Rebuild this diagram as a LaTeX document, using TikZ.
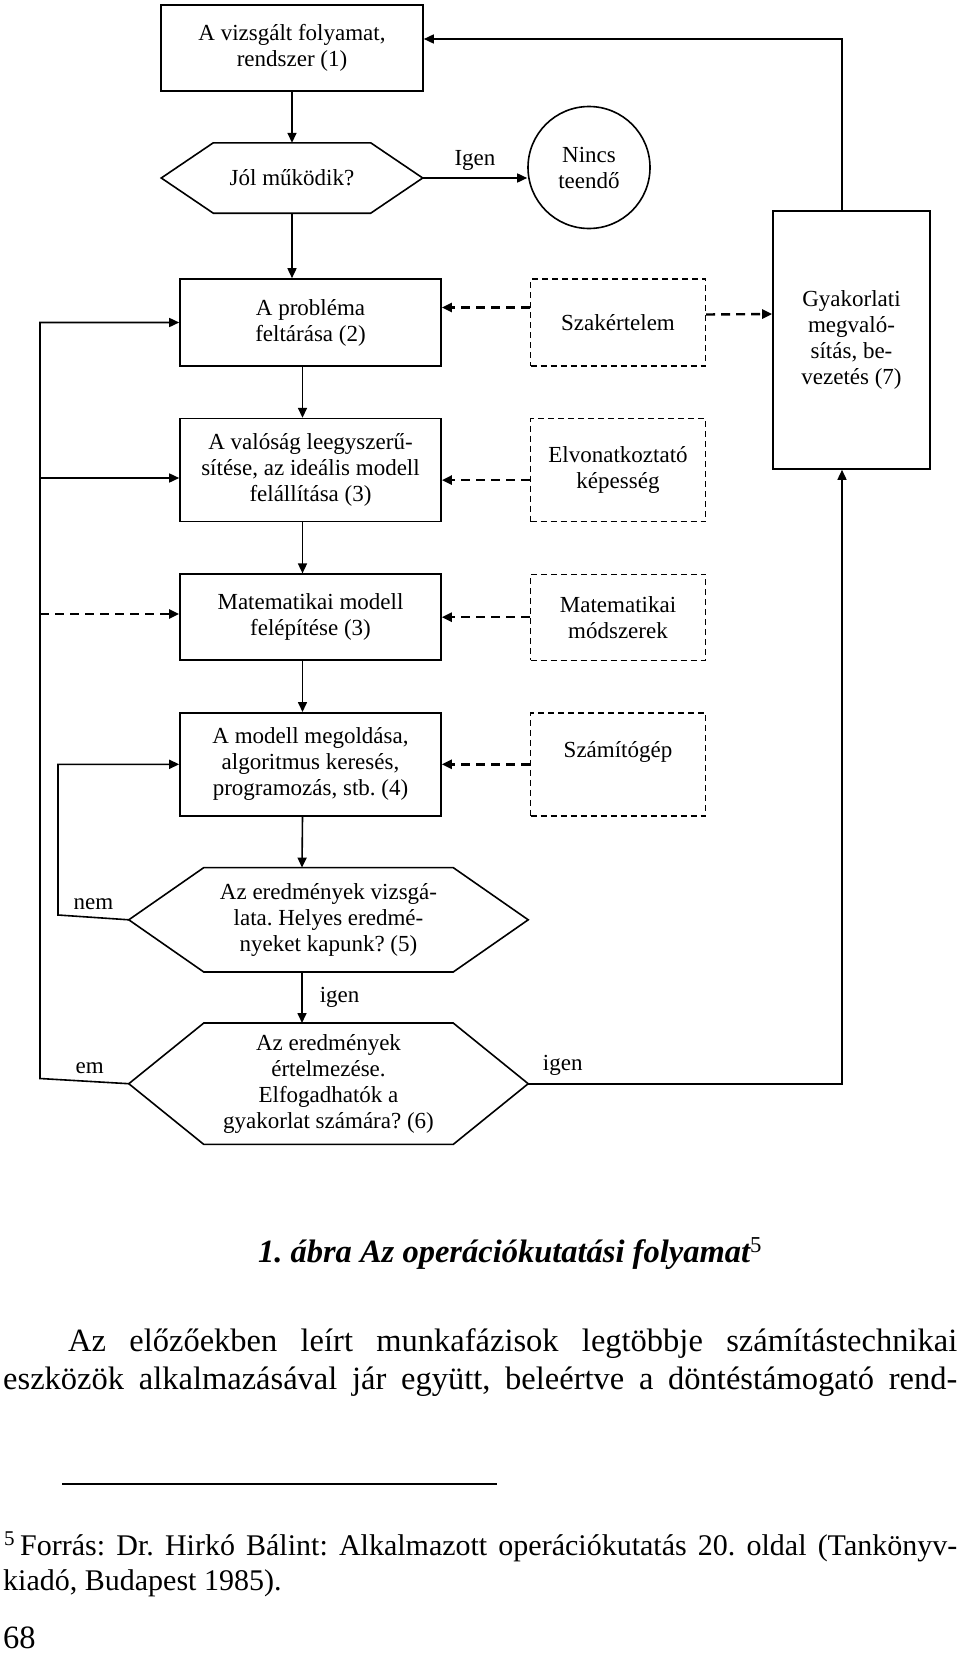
\documentclass[tikz,border=0pt]{standalone}
\usepackage{fontspec}
\setmainfont{Liberation Serif}
\usepackage{tikz}
\usetikzlibrary{shapes,arrows,positioning}
\usetikzlibrary{arrows.meta}
\usetikzlibrary{calc}
\frenchspacing

\begin{document}
\begin{tikzpicture}[
    x=1pt, y=-1pt,
    mybox/.style={
       rectangle,
       draw=black,
       line width=1.6pt,
       align=center,
       inner sep=2pt,
       minimum width=261pt,
       font=\fontsize{23}{26}\selectfont},
    mydash/.style={
       mybox,
       line width=1.4pt,
       dash pattern=on 6pt off 4pt,
       minimum width=175pt},
    myhex/.style={
       rectangle,
       align=center,
       inner sep=2pt,
       minimum width=399pt,
       font=\fontsize{23}{26}\selectfont},
    mylabel/.style={font=\fontsize{23}{26}\selectfont, inner sep=2pt},
    bodytext/.style={font=\fontsize{32.5}{38}\selectfont, inner sep=0pt},
    fntext/.style={font=\fontsize{30}{37}\selectfont, inner sep=0pt},
    myarrow/.style={line width=1.6pt, -{Triangle[length=10pt,width=9pt]}},
    mydasharrow/.style={myarrow, line width=2.4pt, dash pattern=on 9pt off 6pt},
    node distance=51pt and 88pt
    ]
    \useasboundingbox (0,0) rectangle (960,1654);

    \node[mybox, minimum width=262pt, minimum height=86pt] (sys) at (292,48) {A vizsgált folyamat,\\rendszer (1)};
    \node[myhex, minimum width=261pt, minimum height=70pt, below=of sys] (ok) {Jól működik?};
    \node[circle, draw=black, line width=1.6pt, minimum size=122pt, inner sep=0pt,
          align=center, font=\fontsize{23}{26}\selectfont] (nothing) at (589,167.5) {Nincs\\teendő};

    \node[mybox, minimum height=87pt] (feltar) at (310.5,322.5) {A probléma\\feltárása (2)};
    \node[mybox, minimum height=103pt, below=of feltar] (ideal) {A valóság leegyszerű-\\sítése, az ideális modell\\felállítása (3)};
    \node[mybox, minimum height=86pt, below=of ideal] (matmod) {Matematikai modell\\felépítése (3)};
    \node[mybox, minimum height=103pt, below=of matmod] (megold) {A modell megoldása,\\algoritmus keresés,\\programozás, stb. (4)};
    \node[myhex, minimum height=104pt, below=of megold, xshift=18pt] (vizsg) {Az eredmények vizsgá-\\lata. Helyes eredmé-\\nyeket kapunk? (5)};
    \node[myhex, minimum height=121pt, below=of vizsg] (ertelm) {Az eredmények\\értelmezése.\\Elfogadhatók a\\gyakorlat számára? (6)};

    \node[mydash, minimum height=87pt, right=of feltar] (szak) {Szakértelem};
    \node[mydash, minimum height=103pt, right=of ideal] (elv) {Elvonatkoztató\\képesség};
    \node[mydash, minimum height=86pt, right=of matmod] (matm) {Matematikai\\módszerek};
    \node[mydash, minimum height=103pt, right=of megold, text height=16pt, text depth=30pt] (gep) {Számítógép};

    \node[mybox, minimum width=157pt, minimum height=258pt] (gyak) at (851.5,340) {Gyakorlati\\megvaló-\\sítás, be-\\vezetés (7)};

    % hexagon outlines round the decision nodes
    \foreach \n/\d in {ok/52pt, vizsg/75pt, ertelm/75pt}
      \draw[line width=1.6pt] (\n.west) -- ([xshift=\d]\n.north west) -- ([xshift=-\d]\n.north east)
        -- (\n.east) -- ([xshift=-\d]\n.south east) -- ([xshift=\d]\n.south west) -- cycle;

    \draw[myarrow] (sys) -- (ok);
    \draw[myarrow] (ok.east) -- node[mylabel,above=5pt] {Igen} (ok.east -| nothing.west);
    \draw[myarrow] (ok) -- (ok.south |- feltar.north);
    \foreach \i/\j in {feltar/ideal, ideal/matmod, matmod/megold}
      \draw[myarrow] ([xshift=-8pt]\i.south) -- ([xshift=-8pt]\j.north);
    \draw[myarrow] ([xshift=-8pt]megold.south) -- ([xshift=-26.5pt]vizsg.north);
    \draw[myarrow] ([xshift=-26.5pt]vizsg.south) -- node[mylabel,right=15pt] {igen} ([xshift=-26.5pt]ertelm.north);

    \foreach \i/\j/\s in {szak/feltar/15pt, elv/ideal/-10pt, matm/matmod/0pt, gep/megold/0pt}
      \draw[mydasharrow] ([yshift=\s]\i.west) -- ([yshift=\s]\j.east);
    \draw[mydasharrow] ([yshift=8pt]szak.east) -- ([yshift=26pt]gyak.west);

    % feedback loops
    \coordinate (backL) at (40,1078.5);
    \coordinate (backN) at (58,915);
    \coordinate (into3) at (40,478);
    \coordinate (into4) at (40,614);
    \draw[myarrow] (ertelm.west) -- node[mylabel,above=5pt,pos=0.44] {em} (backL) |- (feltar.west);
    \draw[myarrow] (into3) -- (into3 -| ideal.west);
    \draw[mydasharrow] (into4) -- (into4 -| matmod.west);
    \draw[myarrow] (vizsg.west) -- node[mylabel,above=5pt] {nem} (backN) |- (megold.west);
    \draw[myarrow] (ertelm.east) -| node[mylabel,above=5pt,pos=0.055] {igen} ([xshift=-9.5pt]gyak.south);
    \draw[myarrow] ([xshift=-9.5pt]gyak.north) |- ([yshift=9pt]sys.east);

    % page text below the figure
    \node[bodytext, anchor=base] (caption) at (510,1262) {\bfseries\itshape 1. ábra Az operációkutatási folyamat\textsuperscript{\mdseries\upshape 5}};
    \node[bodytext, anchor=base west] (par1) at (68,1351) {\makebox[889pt][s]{Az előzőekben leírt munkafázisok legtöbbje számítástechnikai}};
    \node[bodytext, anchor=base west] (par2) at (3,1389) {\makebox[954pt][s]{eszközök alkalmazásával jár együtt, beleértve a döntéstámogató rend-}};
    \draw[line width=1.6pt] (62,1484) -- (497,1484);
    \node[fntext, anchor=base west] (fnmark) at (4,1555) {\textsuperscript{5}};
    \node[fntext, anchor=base west] (fn1) at (20,1555) {\makebox[937pt][s]{Forrás: Dr. Hirkó Bálint: Alkalmazott operációkutatás 20. oldal (Tankönyv-}};
    \node[fntext, anchor=base west] (fn2) at (3,1590) {kiadó, Budapest 1985).};
    \node[bodytext, anchor=base west] (pagenum) at (3,1648) {68};
\end{tikzpicture}
\end{document}
